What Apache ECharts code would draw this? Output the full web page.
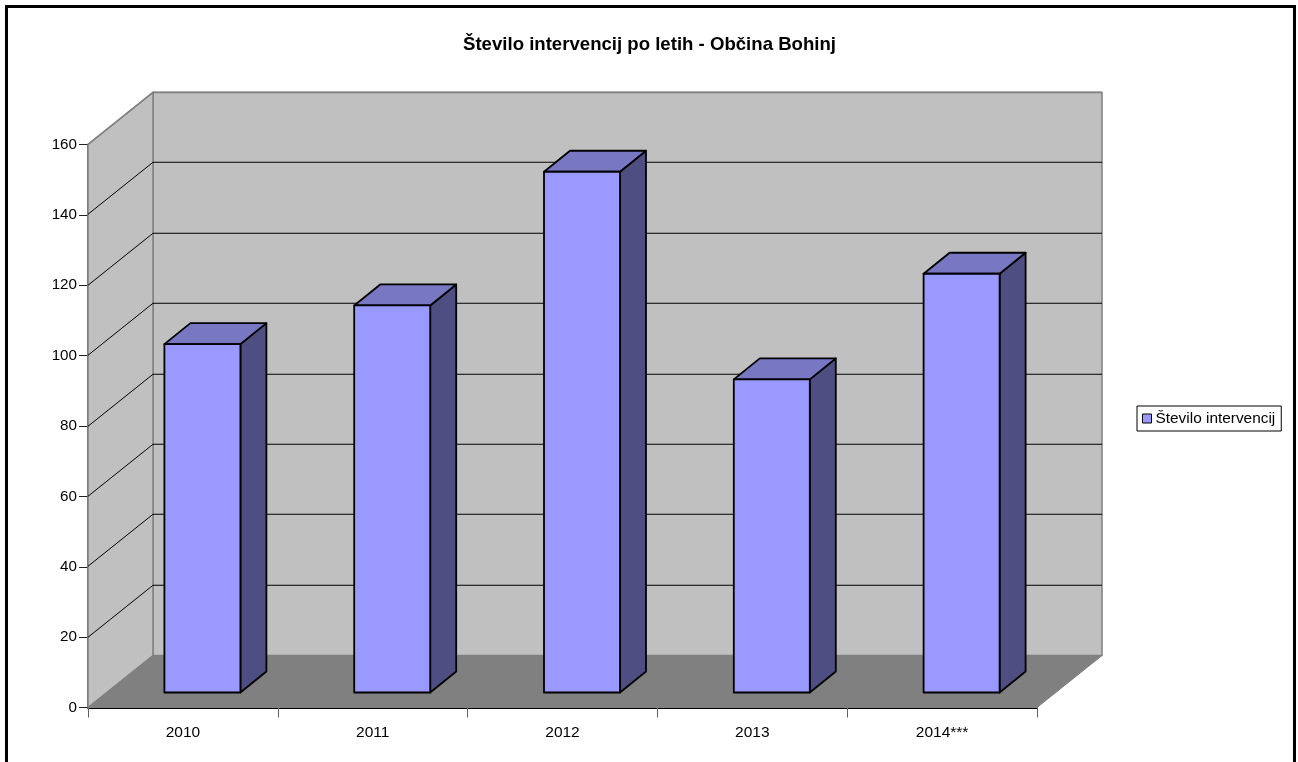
<!DOCTYPE html>
<html>
<head>
<meta charset="utf-8">
<style>html,body{margin:0;padding:0;background:#fff;overflow:hidden}#c{width:1298px;height:762px}</style>
<script src="https://cdn.jsdelivr.net/npm/echarts@6/dist/echarts.min.js"></script>
</head>
<body>
<div id="c"></div>
<script>
const titleText = 'Število intervencij po letih - Občina Bohinj';
const seriesName = 'Število intervencij';
const categories = ['2010', '2011', '2012', '2013', '2014***'];
const interventions = [99, 110, 148, 89, 119];
const gridValues = [20, 40, 60, 80, 100, 120, 140, 160];

const FONT = '"Liberation Sans", Arial, sans-serif';
const wallDx = 65, wallDy = -52;
const barShiftX = 19.5, barShiftY = -15, barDx = 26, barDy = -21, barW = 76;

const chart = echarts.init(document.getElementById('c'), null, {renderer: 'canvas'});

function wallsItem(params, api) {
  const c = params.coordSys;
  const L = c.x, R = c.x + c.width, T = c.y, B = c.y + c.height;
  return {type: 'group', children: [
    {type: 'polygon', shape: {points: [[L + wallDx, T + wallDy], [R + wallDx, T + wallDy], [R + wallDx, B + wallDy], [L + wallDx, B + wallDy]]},
      style: {fill: '#C0C0C0', stroke: '#808080', lineWidth: 1.5}},
    {type: 'polygon', shape: {points: [[L, T], [L + wallDx, T + wallDy], [L + wallDx, B + wallDy], [L, B]]},
      style: {fill: '#C0C0C0', stroke: '#808080', lineWidth: 1.5}},
    {type: 'polygon', shape: {points: [[L, B], [L + wallDx, B + wallDy], [R + wallDx, B + wallDy], [R, B]]},
      style: {fill: '#808080', stroke: '#808080', lineWidth: 1}}
  ]};
}

function gridItem(params, api) {
  const c = params.coordSys;
  const p = api.coord([0, api.value(0)]);
  const top = api.value(0) === 160;
  const col = top ? '#808080' : '#000000';
  const w = top ? 1.5 : 1;
  const y = Math.floor(p[1]) + 0.25;
  return {type: 'group', children: [
    {type: 'polyline', shape: {points: [[c.x, y], [c.x + wallDx, y + wallDy], [c.x + c.width + wallDx, y + wallDy]]},
      style: {fill: null, stroke: col, lineWidth: w}}
  ]};
}

function barItem(params, api) {
  const i = api.value(0);
  const t = api.coord([i, api.value(1)]);
  const b = api.coord([i, 0]);
  const x0 = t[0] + barShiftX - barW / 2, x1 = x0 + barW;
  const yt = t[1] + barShiftY, yb = b[1] + barShiftY;
  const line = {stroke: '#000000', lineWidth: 1.8, lineJoin: 'round'};
  return {type: 'group', children: [
    {type: 'polygon', shape: {points: [[x1, yt], [x1 + barDx, yt + barDy], [x1 + barDx, yb + barDy], [x1, yb]]},
      style: Object.assign({fill: '#4E4E82'}, line)},
    {type: 'polygon', shape: {points: [[x0, yt], [x0 + barDx, yt + barDy], [x1 + barDx, yt + barDy], [x1, yt]]},
      style: Object.assign({fill: '#7777C2'}, line)},
    {type: 'polygon', shape: {points: [[x0, yt], [x1, yt], [x1, yb], [x0, yb]]},
      style: Object.assign({fill: '#9999FF'}, line)}
  ]};
}

chart.setOption({
  animation: false,
  backgroundColor: '#ffffff',
  title: {
    text: titleText, left: 644.5, top: 30, textAlign: 'center',
    textStyle: {fontFamily: FONT, fontSize: 18.6, fontWeight: 'bold', color: '#000'}
  },
  legend: {
    data: [{name: seriesName, icon: 'rect', itemStyle: {color: '#9999FF', borderColor: '#000', borderWidth: 1}}],
    left: 1137, top: 406, orient: 'vertical',
    padding: [5, 6, 5, 5], itemWidth: 9, itemHeight: 9, itemGap: 0,
    backgroundColor: '#fff', borderColor: '#000', borderWidth: 1,
    selectedMode: false,
    textStyle: {fontFamily: FONT, fontSize: 15.4, color: '#000', padding: [2, 0, 0, -1]}
  },
  grid: {left: 88, top: 144.5, width: 949, height: 563, containLabel: false},
  xAxis: {
    type: 'category', data: categories,
    axisLine: {lineStyle: {color: '#000', width: 2}, z: 10},
    axisTick: {show: true, length: 10, lineStyle: {color: '#606060', width: 1}},
    axisLabel: {fontFamily: FONT, fontSize: 15.5, color: '#000', margin: 17},
    splitLine: {show: false}
  },
  yAxis: {
    type: 'value', min: 0, max: 160, interval: 20,
    axisLine: {show: true, lineStyle: {color: '#404040', width: 1.5}},
    axisTick: {show: true, length: 9, lineStyle: {color: '#202020', width: 1}},
    axisLabel: {fontFamily: FONT, fontSize: 15.2, color: '#000', margin: 11},
    splitLine: {show: false}
  },
  graphic: [{
    type: 'rect', z: 100, silent: true,
    shape: {x: 6.5, y: 6.5, width: 1288, height: 800},
    style: {fill: null, stroke: '#000', lineWidth: 3}
  }],
  series: [
    {type: 'custom', name: 'walls', coordinateSystem: 'cartesian2d', renderItem: wallsItem,
      data: [[0, 0]], encode: {x: 0, y: 1}, silent: true, z: 1, tooltip: {show: false}},
    {type: 'custom', name: 'gridlines', coordinateSystem: 'cartesian2d', renderItem: gridItem,
      data: gridValues.map(v => [v]), encode: {y: 0}, silent: true, z: 2},
    {type: 'custom', name: seriesName, coordinateSystem: 'cartesian2d', renderItem: barItem,
      itemStyle: {color: '#9999FF'},
      data: interventions.map((v, i) => [i, v]), encode: {x: 0, y: 1}, z: 3}
  ]
});
</script>
</body>
</html>
